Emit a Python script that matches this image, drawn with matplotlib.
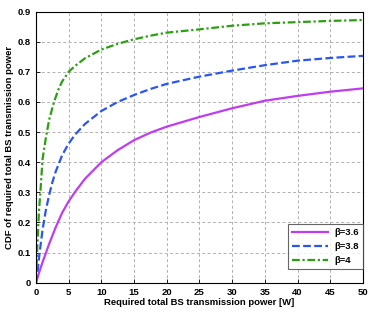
import matplotlib.pyplot as plt

plt.rcParams['font.family'] = ['Liberation Sans', 'DejaVu Sans']

# values
p_36 = [0, 0.5, 1, 2, 3, 4, 5, 6, 7.5, 10, 12.5, 15, 17.5, 20, 25, 30, 35, 40, 45, 50]
cdf_36 = [0, 0.035, 0.068, 0.128, 0.183, 0.232, 0.27, 0.302, 0.345, 0.40, 0.44, 0.473, 0.498, 0.518, 0.55, 0.579, 0.604, 0.62, 0.634, 0.645]

p_38 = [0, 0.25, 0.5, 1, 1.5, 2, 2.5, 3, 4, 5, 6, 7.5, 10, 12.5, 15, 17.5, 20, 25, 30, 35, 40, 45, 50]
cdf_38 = [0, 0.04, 0.09, 0.175, 0.24, 0.29, 0.333, 0.368, 0.423, 0.462, 0.492, 0.527, 0.57, 0.6, 0.623, 0.643, 0.66, 0.684, 0.704, 0.722, 0.737, 0.746, 0.753]

p_4 = [0, 0.2, 0.45, 0.7, 1, 1.5, 2, 2.75, 3.5, 4, 5, 6, 7.5, 10, 12.5, 15, 17.5, 20, 25, 30, 35, 40, 45, 50]
cdf_4 = [0, 0.12, 0.235, 0.31, 0.41, 0.48, 0.54, 0.6, 0.645, 0.668, 0.70, 0.72, 0.745, 0.774, 0.793, 0.808, 0.82, 0.83, 0.841, 0.853, 0.861, 0.865, 0.869, 0.872]

fig = plt.figure(figsize=(3.81, 3.13), dpi=100)
ax = fig.add_axes([0.0945, 0.097, 0.858, 0.866])

ax.plot(p_36, cdf_36, color='#c03cf0', lw=1.6, ls='-', label='β=3.6')
ax.plot(p_38, cdf_38, color='#2a55f5', lw=1.6, ls='--', dashes=(3.5, 1.5), label='β=3.8')
ax.plot(p_4, cdf_4, color='#2aa010', lw=1.6, ls='-.', dashes=(3.5, 1.2, 1, 1.2), label='β=4')

ax.set_xlim(0, 50)
ax.set_ylim(0, 0.9)
ax.set_xticks(range(0, 51, 5))
ax.set_yticks([i / 10 for i in range(10)])
ax.set_yticklabels(['0'] + ['%.1f' % (i / 10) for i in range(1, 10)])
ax.tick_params(direction='in', labelsize=6.8, length=3, width=0.6)
for lab in ax.get_xticklabels() + ax.get_yticklabels():
    lab.set_fontweight('bold')
ax.grid(True, ls='--', color='#b0b0b0', lw=0.7, dashes=(3, 2.5))
for s in ax.spines.values():
    s.set_linewidth(0.8)

ax.set_xlabel('Required total BS transmission power [W]', fontsize=6.8, fontweight='bold', labelpad=1)
ax.set_ylabel('CDF of required total BS transmission power', fontsize=6.8, fontweight='bold', labelpad=3)

leg = ax.legend(loc='lower right', bbox_to_anchor=(1.0, 0.05), fontsize=6.8, frameon=True,
                fancybox=False, edgecolor='#404040', handlelength=3.8, borderpad=0.45,
                labelspacing=0.5, handletextpad=0.6, borderaxespad=0)
leg.get_frame().set_linewidth(0.8)
for t in leg.get_texts():
    t.set_fontweight('bold')

fig.savefig('out.png', dpi=100)
plt.close(fig)
